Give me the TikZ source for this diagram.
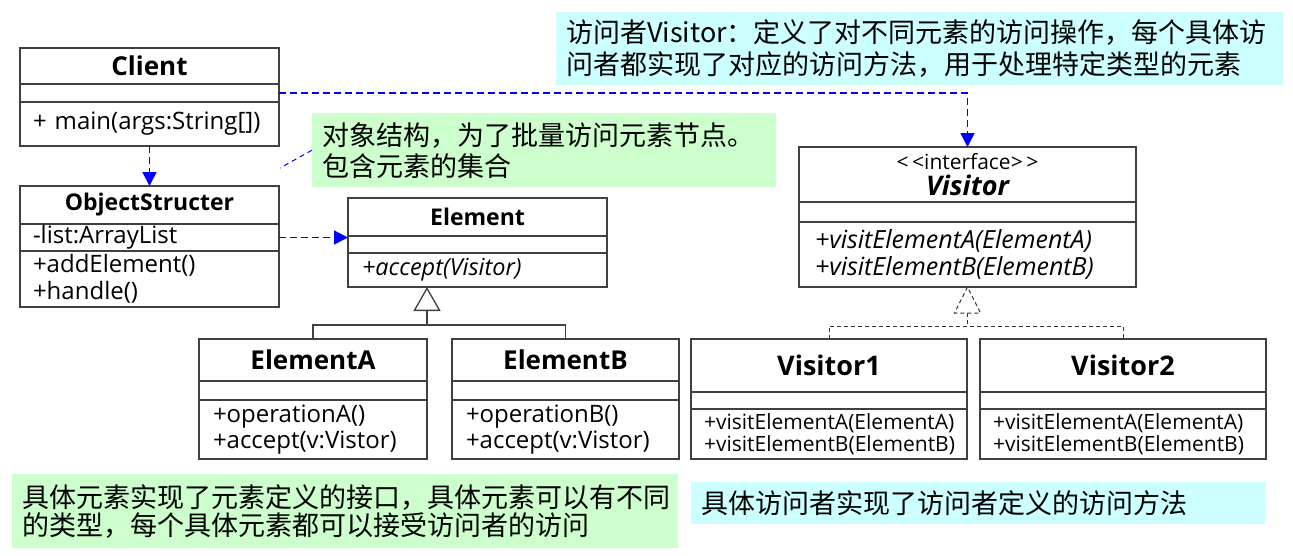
\documentclass[tikz,border=0pt]{standalone}
\usepackage{fontspec}
\setmainfont{Open Sans}
\newfontfamily\cjk{Noto Sans CJK SC}
\usetikzlibrary{positioning,arrows.meta}

\definecolor{notegreen}{HTML}{CCFFCC}
\definecolor{notecyan}{HTML}{CCFFFF}
\newcommand{\umlsize}[2]{\fontsize{#1}{#2}\selectfont}

\begin{document}
\begin{tikzpicture}[x=1pt, y=-1pt,
  box/.style={draw=black!75, line width=1.4pt, outer sep=0pt, inner sep=0pt},
  ops/.style={box, align=left, inner xsep=13pt},
  note/.style={anchor=north west, inner xsep=10pt, inner ysep=0pt, align=left},
  dep/.style={blue, line width=1.5pt, dash pattern=on 7pt off 4pt, -{Triangle[width=14pt,length=14pt]}},
  gen/.style={black!75, line width=1.3pt},
  real/.style={black!80, line width=1pt, dash pattern=on 4pt off 3pt}]
  \useasboundingbox (0,0) rectangle (1293,555);

  % Client
  \node[box, anchor=north, minimum width=259pt, minimum height=36pt, font=\bfseries\umlsize{26}{30}] (client) at (149.5,48) {Client};
  \node[box, minimum width=259pt, minimum height=18pt, below=0pt of client] (clientattr) {};
  \node[ops, text width=233pt, minimum height=44pt, below=0pt of clientattr, font=\umlsize{24}{27}] (clientops) {+ main(args:String[])};

  % ObjectStructer
  \node[box, anchor=north, minimum width=259pt, minimum height=38pt, font=\bfseries\umlsize{23}{27}] (os) at (149.5,186) {ObjectStructer};
  \node[ops, text width=233pt, minimum height=27pt, below=0pt of os, font=\umlsize{24}{27}] (osattr) {-list:ArrayList};
  \node[ops, text width=233pt, minimum height=56pt, below=0pt of osattr, font=\umlsize{24}{27}] (osops) {+addElement()\\+handle()};

  % Element
  \node[box, anchor=north, minimum width=259pt, minimum height=38pt, font=\bfseries\umlsize{23}{27}] (elem) at (477.5,198) {Element};
  \node[box, minimum width=259pt, minimum height=17pt, below=0pt of elem] (elemattr) {};
  \node[ops, text width=231pt, inner xsep=14pt, minimum height=34pt, below=0pt of elemattr, font=\itshape\umlsize{23.5}{27}] (elemops) {+accept(Visitor)};

  % ElementA, ElementB
  \node[box, anchor=north, minimum width=228pt, minimum height=42pt, font=\bfseries\umlsize{26}{30}] (elema) at (313,339) {ElementA};
  \node[box, minimum width=228pt, minimum height=19pt, below=0pt of elema] (elemaattr) {};
  \node[ops, text width=200pt, inner xsep=14pt, minimum height=59pt, below=0pt of elemaattr, font=\umlsize{24}{26}] (elemaops) {+operationA()\\+accept(v:Vistor)};

  \node[box, anchor=north, minimum width=227pt, minimum height=42pt, font=\bfseries\umlsize{26}{30}] (elemb) at (565.5,339) {ElementB};
  \node[box, minimum width=227pt, minimum height=19pt, below=0pt of elemb] (elembattr) {};
  \node[ops, text width=199pt, inner xsep=14pt, minimum height=59pt, below=0pt of elembattr, font=\umlsize{24}{26}] (elembops) {+operationB()\\+accept(v:Vistor)};

  % Visitor
  \node[box, anchor=north, minimum width=337pt, minimum height=55pt, align=center] (vis) at (967.5,147)
    {\umlsize{21}{21}<\,<interface>\,>\\[4pt]\bfseries\itshape\umlsize{27}{27}Visitor};
  \node[box, minimum width=337pt, minimum height=20pt, below=0pt of vis] (visattr) {};
  \node[ops, text width=305pt, inner xsep=16pt, minimum height=65pt, below=0pt of visattr, font=\itshape\umlsize{25}{27}] (visops)
    {+visitElementA(ElementA)\\+visitElementB(ElementB)};

  % Visitor1, Visitor2
  \node[box, anchor=north, minimum width=276pt, minimum height=53pt, font=\bfseries\umlsize{27}{30}] (vis1) at (829,339) {Visitor1};
  \node[box, minimum width=276pt, minimum height=17pt, below=0pt of vis1] (vis1attr) {};
  \node[ops, text width=250pt, inner xsep=13pt, minimum height=50pt, below=0pt of vis1attr, font=\umlsize{21}{21.5}] (vis1ops)
    {+visitElementA(ElementA)\\+visitElementB(ElementB)};

  \node[box, anchor=north, minimum width=286pt, minimum height=53pt, font=\bfseries\umlsize{27}{30}] (vis2) at (1123,339) {Visitor2};
  \node[box, minimum width=286pt, minimum height=17pt, below=0pt of vis2] (vis2attr) {};
  \node[ops, text width=260pt, inner xsep=13pt, minimum height=50pt, below=0pt of vis2attr, font=\umlsize{21}{21.5}] (vis2ops)
    {+visitElementA(ElementA)\\+visitElementB(ElementB)};

  % notes
  \node[note, fill=notecyan, text width=707pt, minimum height=73pt, font=\cjk\umlsize{27}{32}] (visnote) at (556,12)
    {访问者Visitor：定义了对不同元素的访问操作，每个具体访\\问者都实现了对应的访问方法，用于处理特定类型的元素};
  \node[note, fill=notegreen, text width=444pt, minimum height=74pt, font=\cjk\umlsize{27}{31}] (osnote) at (312,113)
    {对象结构，为了批量访问元素节点。\\包含元素的集合};
  \node[note, fill=notegreen, text width=646pt, minimum height=74pt, font=\cjk\umlsize{27}{28}] (elemnote) at (12,474)
    {具体元素实现了元素定义的接口，具体元素可以有不同\\的类型，每个具体元素都可以接受访问者的访问};
  \node[note, fill=notecyan, text width=555pt, minimum height=42pt, font=\cjk\umlsize{27}{30}] (concnote) at (691,482)
    {具体访问者实现了访问者定义的访问方法};

  % dependencies
  \draw[dep] (clientops.south) -- (os.north);
  \draw[dep] (clientattr.east) -| (vis.north);
  \draw[dep] (osattr.east) -- (osattr.east -| elem.west);
  \coordinate (osnotetip) at (280,168);
  \draw[blue, line width=1pt, dash pattern=on 5pt off 4pt] (osnote.west) -- (osnotetip);

  % generalization
  \coordinate (elemtip) at (427,0 |- elemops.south);
  \coordinate (elembar) at (427,325);
  \draw[gen, -{Triangle[open, width=27pt, length=24pt, fill=white]}] (elembar) -- (elemtip);
  \draw[gen] (elema.north) |- (elembar) -| (elemb.north);

  % realization
  \coordinate (visbase) at ([yshift=-26pt]visops.south);
  \coordinate (visbar) at (967.5,326);
  \draw[real, fill=white] (visops.south) -- ++(-13,26) -- ++(26,0) -- cycle;
  \draw[real] (visbase) -- (visbar);
  \draw[real] (vis1.north) |- (visbar) -| (vis2.north);
\end{tikzpicture}
\end{document}
